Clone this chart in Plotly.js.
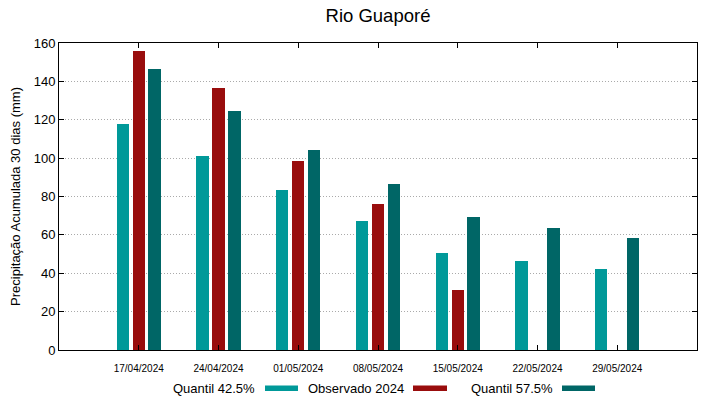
<!DOCTYPE html>
<html>
<head>
<meta charset="utf-8">
<script src="https://cdn.plot.ly/plotly-3.0.1.min.js"></script>
<style>html,body{margin:0;padding:0;background:#fff;}#chart{width:719px;height:399px;}</style>
</head>
<body>
<div id="chart"></div>
<script>
const categories = ["17/04/2024","24/04/2024","01/05/2024","08/05/2024","15/05/2024","22/05/2024","29/05/2024"];
const quantil425 = [118, 101, 83.5, 67, 50.5, 46.5, 42];
const observado2024 = [156, 136.7, 98.3, 76, 31.5, null, null];
const quantil575 = [146.3, 124.5, 104.2, 86.5, 69.3, 63.5, 58.5];
const seriesNames = ["Quantil 42.5%", "Observado 2024", "Quantil 57.5%"];
const colors = ["rgb(0,153,153)", "rgb(153,13,13)", "rgb(0,102,102)"];

const idx = categories.map((c, i) => i);
const barW = 0.155;
const offsets = [-0.278, -0.078, 0.122];
const seriesData = [quantil425, observado2024, quantil575];

const traces = seriesData.map((vals, k) => ({
  type: 'bar',
  x: idx,
  y: vals,
  name: seriesNames[k],
  width: barW,
  offset: offsets[k],
  marker: {color: colors[k], line: {width: 0}},
  showlegend: false,
  hoverinfo: 'x+y+name'
}));

// Custom legend: text followed by colour swatch
const W = 638, H = 307, L = 59, B = 350;
const px = p => (p - L) / W;
const py = p => (B - p) / H;
const legendItems = [
  {textRight: 257, sw: [265, 298]},
  {textRight: 406, sw: [413, 447]},
  {textRight: 555, sw: [562, 595]}
];
const annotations = legendItems.map((it, k) => ({
  xref: 'paper', yref: 'paper',
  x: px(it.textRight), y: py(388),
  xanchor: 'right', yanchor: 'middle',
  text: seriesNames[k], showarrow: false,
  font: {family: 'Liberation Sans, Arial, sans-serif', size: 13, color: '#000'}
}));
const shapes = legendItems.map((it, k) => ({
  type: 'rect', xref: 'paper', yref: 'paper',
  x0: px(it.sw[0]), x1: px(it.sw[1]),
  y0: py(391), y1: py(385.5),
  fillcolor: colors[k], line: {width: 0}
}));

const layout = {
  width: 719, height: 399,
  margin: {l: 59, r: 22, t: 43, b: 49},
  paper_bgcolor: '#fff', plot_bgcolor: '#fff',
  font: {family: 'Liberation Sans, Arial, sans-serif', color: '#000'},
  title: {text: 'Rio Guaporé', xref: 'paper', x: 0.5, xanchor: 'center', y: 0.962, yanchor: 'middle',
          font: {size: 18.5, color: '#000'}},
  showlegend: false,
  xaxis: {
    range: [-1, 7],
    tickvals: idx, ticktext: categories,
    ticks: 'inside', ticklen: 5, tickcolor: '#000', tickwidth: 1,
    tickfont: {size: 10},
    showline: true, linecolor: '#000', linewidth: 1, mirror: 'ticks',
    showgrid: false, zeroline: false, fixedrange: true,
    ticklabelstandoff: 9
  },
  yaxis: {
    range: [0, 160], dtick: 20,
    ticks: 'inside', ticklen: 5, tickcolor: '#000', tickwidth: 1,
    tickfont: {size: 13},
    showline: true, linecolor: '#000', linewidth: 1, mirror: 'ticks',
    showgrid: true, gridcolor: '#aaa', griddash: '1px,2px', gridwidth: 1,
    zeroline: false,
    title: {text: 'Precipitação Acumulada 30 dias (mm)', font: {size: 13}, standoff: 10}
  },
  bargap: 0,
  annotations: annotations,
  shapes: shapes
};

Plotly.newPlot('chart', traces, layout, {displayModeBar: false, staticPlot: true});
</script>
</body>
</html>
